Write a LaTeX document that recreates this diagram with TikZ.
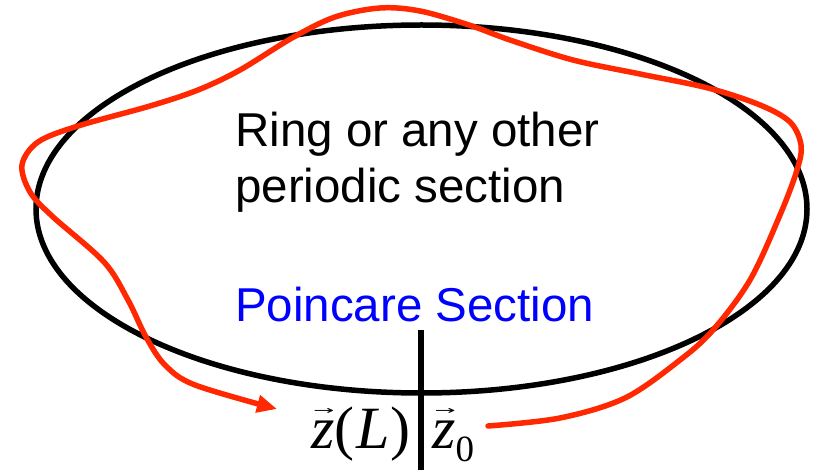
\documentclass[tikz,border=0pt]{standalone}
\usepackage{fontspec}
\usepackage{graphicx}
\setmainfont{Liberation Sans}
\newfontfamily\tms{Liberation Serif}
\newfontfamily\dejavu{DejaVu Sans}
\usetikzlibrary{arrows.meta,shapes.geometric}
\definecolor{trajred}{RGB}{255,40,0}
\definecolor{secblue}{RGB}{0,0,255}
\newcommand\vecz{\ooalign{\textit{z}\cr\hfil\raisebox{34pt}{\resizebox{21pt}{6pt}{\dejavu →}}\cr}}
\tikzset{
  lbl/.style={inner sep=0pt, font=\fontsize{47.5}{56}\selectfont},
  mathlbl/.style={inner sep=0pt, font=\tms\fontsize{60}{64}\selectfont},
  traj/.style={draw=trajred, line width=5.5pt, line cap=round, line join=round},
}
\begin{document}
\begin{tikzpicture}[x=1pt,y=-1pt]
\useasboundingbox (0,0) rectangle (814,470);
\fill[white] (0,0) rectangle (814,470);
% ring
\node[draw, line width=5.5pt, ellipse, minimum width=771pt, minimum height=368pt, inner sep=0pt] (ring) at (421.5,209) {};
% poincare section line
\coordinate (ptop) at (421,330);
\coordinate (pbot) at (421,470);
\draw[line width=5.5pt] (ptop) -- (pbot);
% texts
\node[lbl, anchor=base west] (t1) at (235,147) {Ring or any other};
\node[lbl, anchor=base west] (t2) at (235,203) {periodic section};
\node[lbl, anchor=base west, text=secblue] (ps) at (235,322) {Poincare Section};
\node[mathlbl, anchor=base east] (zL) at (411,448) {\vecz(\kern2pt\textit{L}\kern1pt)};
\node[mathlbl, anchor=base west] (z0) at (432,448) {\vecz\raisebox{-13pt}{\fontsize{37}{40}\selectfont 0}};
% trajectory
\coordinate (start) at (488,426);
\coordinate (tip) at (277,409);
\draw[traj, -{Triangle[length=20pt,width=17pt]}] plot[smooth, tension=0.55] coordinates {
 (488,426) (560,418) (625,398) (680,360) (713,330) (750,280) (780,215) (797,170)
 (801,145) (790,122) (760,105) (708,88) (640,74) (573,60) (510,40) (469,25)
 (420,11) (380,8) (335,17) (292,38) (240,70) (198,90) (150,106) (78,126)
 (38,142) (22,165) (30,192) (52,216) (104,262) (128,300) (146,337) (165,365)
 (195,385) (277,409)};
\end{tikzpicture}
\end{document}
